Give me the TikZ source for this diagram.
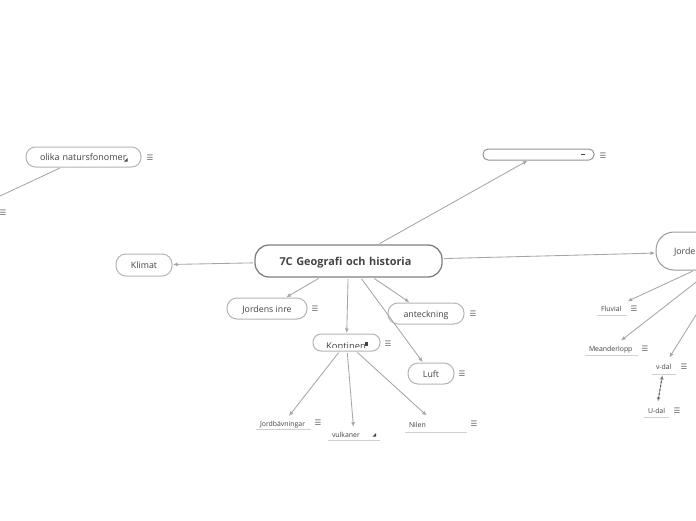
\documentclass[tikz,border=0pt]{standalone}
\usepackage{fontspec}
\setmainfont{Open Sans}
\newfontfamily\iconfont{DejaVu Sans}
\usetikzlibrary{arrows.meta}
\definecolor{linkgray}{HTML}{A6A6A6}
\definecolor{ink}{HTML}{444444}
\definecolor{rimgray}{HTML}{B4B4B4}
\tikzset{
  topic/.style={draw=rimgray,line width=1pt,rounded corners=#1,inner sep=0pt,text=ink,font=\fontsize{8.8}{10}\selectfont,fill=white,text height=7.4pt,text depth=0pt},
  leaf/.style={inner xsep=4pt,inner ysep=0pt,text=ink,align=left,font=\fontsize{6.9}{8}\selectfont,text width=#1,text height=6pt,text depth=0pt},
  rulebar/.style={draw=black!18,line width=.8pt},
  link/.style={draw=linkgray,line width=.85pt,-{Latex[length=4.5pt,width=4pt]},shorten <=1.5pt,shorten >=.5pt},
  menu/.style={text=ink!85,inner sep=0pt,font=\iconfont\fontsize{7.5}{8}\selectfont},
  tinymark/.style={fill=ink,draw=none}
}
\begin{document}
\begin{tikzpicture}[x=1pt,y=-1pt]
\clip (0,0) rectangle (696,520);
\fill[white] (0,0) rectangle (696,520);

% main topic
\node[topic=14pt,draw=black!50,line width=1.3pt,minimum width=187pt,minimum height=32pt,font=\fontsize{10.9}{12}\selectfont\bfseries,text width=163pt,align=left,text height=8pt] (root) at (348.5,261) {\hspace*{12.5pt}7C Geografi och historia};

% first level
\node[topic=9.5pt,minimum width=115pt,minimum height=20pt,text width=87pt,align=left,font=\fontsize{9}{10}\selectfont] (olika) at (83.5,157) {olika natursfonomer};
\node[topic=5pt,draw=black!42,minimum width=111pt,minimum height=11pt] (blank) at (538.5,154.5) {};
\node[topic=10pt,minimum width=56pt,minimum height=22pt] (klimat) at (144,265) {Klimat};
\node[topic=10pt,minimum width=80pt,minimum height=21pt] (inre) at (267,308.5) {Jordens inre};
\node[topic=10pt,minimum width=76pt,minimum height=21pt] (ant) at (426,313.5) {anteckning};
\node[topic=8pt,minimum width=67pt,minimum height=17pt] (kont) at (346.5,342.5) {};
\begin{scope}
  \clip (314,335) rectangle (379,347);
  \node[text=ink,font=\fontsize{9.4}{10}\selectfont,inner sep=0pt,anchor=base west] (konttext) at (326,349.6) {Kontinen};
\end{scope}
\node[topic=10pt,minimum width=46pt,minimum height=21pt] (luft) at (431,373.5) {Luft};
\node[topic=18pt,draw=black!40,minimum width=160pt,minimum height=38pt,text width=124pt,align=left] (jorde) at (736,251) {Jorde};

% second level
\node[leaf=47pt,minimum height=13pt] (jb) at (283.5,423) {Jordbävningar};
\node[leaf=44pt,minimum height=13pt] (vulk) at (354,434) {vulkaner};
\node[leaf=54pt,minimum height=16pt] (nilen) at (436,424) {Nilen};
\node[leaf=22pt,minimum height=14pt] (fluv) at (612,308.5) {Fluvial};
\node[leaf=45pt,minimum height=14pt] (mean) at (611.5,348) {Meanderlopp};
\node[leaf=16pt,minimum height=16pt] (vdal) at (664,366) {\mbox{v-dal}};
\node[leaf=17pt,minimum height=14pt] (udal) at (656.5,410) {\mbox{U-dal}};
\foreach \n in {jb,vulk,nilen,fluv,mean,vdal,udal}
  \draw[rulebar] (\n.south west) -- (\n.south east);

% off-page child of olika
\coordinate (offleft) at (-40,214.7);

% connectors
\foreach \a/\b in {root/blank,root/klimat,root/inre,root/ant,root/kont,root/luft,root/jorde,
                   kont/jb,kont/vulk,kont/nilen,jorde/fluv,jorde/mean,jorde/vdal}
  \draw[link] (\a) -- (\b);
\draw[link] (olika) -- (offleft);
\draw[draw=linkgray,line width=1pt,{Latex[length=4.5pt,width=4.5pt]}-{Latex[length=4.5pt,width=4.5pt]},shorten <=1pt,shorten >=1pt] (vdal) -- (udal);
\draw[draw=black!70,line width=.8pt,dash pattern=on 2pt off 2pt,shorten <=3pt,shorten >=3pt] (vdal) -- (udal);

% small marks
\fill[tinymark] (127.5,158) -- (127.5,161.5) -- (124,161.5) -- cycle;
\fill[tinymark] (376,433) -- (376,436.5) -- (372.5,436.5) -- cycle;
\fill[tinymark] (364.5,342) rectangle (367.5,346);
\fill[tinymark] (581,154) rectangle (585,155);

% menu icons
\node[menu] (m1) at (150,157.7) {☰};
\node[menu] (m2) at (603,155.7) {☰};
\node[menu] (m3) at (315,308.7) {☰};
\node[menu] (m4) at (473,313.7) {☰};
\node[menu] (m5) at (388,343.7) {☰};
\node[menu] (m6) at (462,373.7) {☰};
\node[menu] (m7) at (318,422.7) {☰};
\node[menu] (m8) at (474,423.7) {☰};
\node[menu] (m9) at (634,308.7) {☰};
\node[menu] (m10) at (645,348.7) {☰};
\node[menu] (m11) at (684,366.7) {☰};
\node[menu] (m12) at (677,410.7) {☰};
\node[menu] (m13) at (3,212.7) {☰};
\end{tikzpicture}
\end{document}
